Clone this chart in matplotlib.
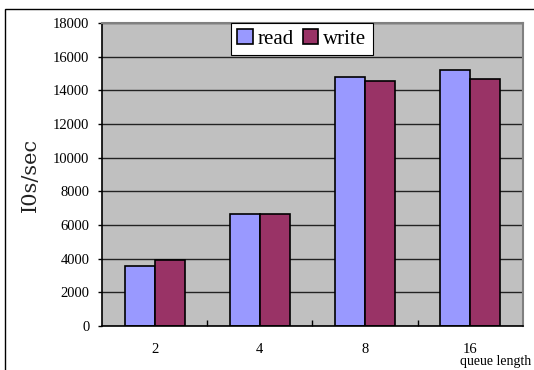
import matplotlib.pyplot as plt
from matplotlib.patches import Rectangle
import numpy as np

categories = ["2", "4", "8", "16"]
read_vals = [3550, 6630, 14780, 15230]
write_vals = [3890, 6630, 14560, 14660]

plt.rcParams["font.family"] = ["Liberation Serif", "DejaVu Serif"]

fig = plt.figure(figsize=(5.34, 3.70), dpi=100)
ax = fig.add_axes([0.191, 0.119, 0.788, 0.819])

# outer chart frame, runs off the right and bottom edge
fig.patches.append(Rectangle((5 / 534, -0.2), 1.2, 0.2 + 361 / 370,
                             transform=fig.transFigure, fill=False,
                             edgecolor="black", linewidth=1.0, clip_on=False))

x = np.arange(len(categories))
w = 0.285
ax.set_facecolor("#C0C0C0")
ax.set_axisbelow(True)
ax.yaxis.grid(True, color="#222222", linewidth=1.0)

ax.bar(x - w / 2, read_vals, w, color="#9999FF", edgecolor="black",
       linewidth=1.2, label="read")
ax.bar(x + w / 2, write_vals, w, color="#993366", edgecolor="black",
       linewidth=1.2, label="write")

ax.set_xlim(-0.5, 3.5)
ax.set_ylim(0, 18000)
ax.set_yticks(range(0, 18001, 2000))
ax.tick_params(axis="y", labelsize=10.5, length=3, width=1, pad=6)

ax.set_xticks(x)
ax.set_xticklabels(categories)
ax.set_xticks([0.5, 1.5, 2.5], minor=True)
ax.tick_params(axis="x", which="major", length=0, labelsize=10.5, pad=12)
ax.tick_params(axis="x", which="minor", direction="in", length=4, width=1)

for side in ("top", "right"):
    ax.spines[side].set_color("#808080")
    ax.spines[side].set_linewidth(1.5)
for side in ("left", "bottom"):
    ax.spines[side].set_color("black")
    ax.spines[side].set_linewidth(1.2)

ax.set_ylabel("I0s/sec", fontsize=15, family="DejaVu Serif", color="#222222")
ax.yaxis.set_label_coords(-0.147, 0.5)

fig.text(531 / 534, 1 - 361 / 370, "queue length", fontsize=10,
         ha="right", va="center")

leg = ax.legend(loc="upper center", bbox_to_anchor=(0.475, 1.0), ncol=2,
                fontsize=15, frameon=True, fancybox=False, borderaxespad=0,
                handlelength=0.75, handleheight=0.75, handletextpad=0.25,
                columnspacing=0.4, borderpad=0.3)
leg.get_frame().set_edgecolor("black")
leg.get_frame().set_linewidth(0.8)
leg.get_frame().set_alpha(1)

fig.savefig("out.png", dpi=100)
